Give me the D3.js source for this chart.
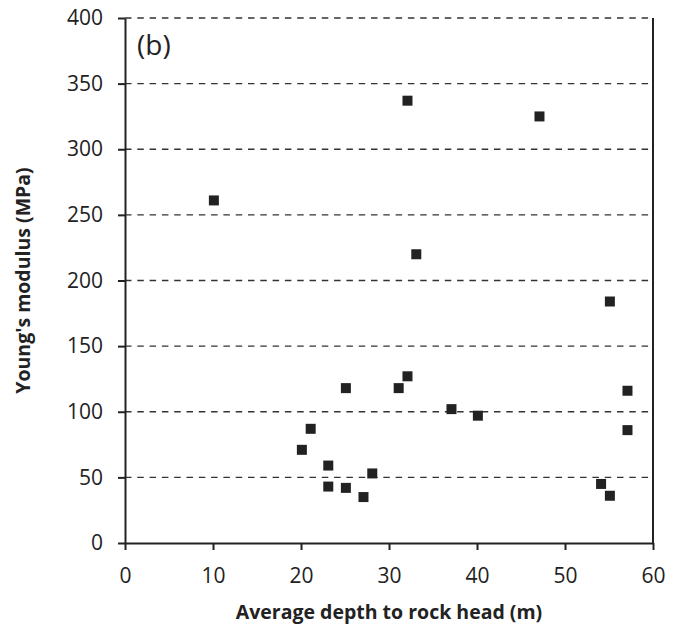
<!DOCTYPE html>
<html>
<head>
<meta charset="utf-8">
<script src="https://cdn.jsdelivr.net/npm/d3@7"></script>
<style>
  body { margin: 0; background: #fff; }
  text { font-family: "Open Sans", sans-serif; fill: #222; }
</style>
</head>
<body>
<svg id="chart" width="679" height="627"></svg>
<script>
"use strict";

// depth to rock head (m) and Young's modulus (MPa)
const depth = [10.1, 32.1, 33.1, 47.1, 25.1, 31.1, 21.1, 20.1, 23.1, 28.1, 23.1,
               25.1, 27.1, 57.1, 57.1, 54.1, 55.1, 32.1, 37.1, 40.1, 55.1];
const modulus = [261, 337, 220, 325, 118, 118, 87, 71, 59, 53, 43,
                 42, 35, 116, 86, 45, 36, 127, 102, 97, 184];
const xTicks = [0, 10, 20, 30, 40, 50, 60];
const yTicks = [0, 50, 100, 150, 200, 250, 300, 350, 400];

const plotLeft = 125, plotRight = 653, plotTop = 18, plotBottom = 543;

const svg = d3.select("#chart");

const xScale = d3.scaleLinear().domain([0, 60]).range([plotLeft, plotRight]);
const yScale = d3.scaleLinear().domain([0, 400]).range([plotBottom, plotTop]);

// dashed gridlines
svg.append("g")
    .selectAll("line")
    .data(yTicks.filter(d => d > 0))
    .join("line")
    .attr("x1", plotLeft)
    .attr("x2", plotRight)
    .attr("y1", d => yScale(d))
    .attr("y2", d => yScale(d))
    .style("stroke", "#333")
    .style("stroke-width", 1.3)
    .style("stroke-dasharray", "6.5,5.8");

// right border
svg.append("line")
    .attr("x1", plotRight).attr("x2", plotRight)
    .attr("y1", plotTop).attr("y2", plotBottom)
    .style("stroke", "#222")
    .style("stroke-width", 2);

const xAxis = svg.append("g")
    .attr("transform", `translate(0,${plotBottom})`)
    .call(d3.axisBottom(xScale).tickValues(xTicks).tickSize(7).tickPadding(18).tickSizeOuter(0));

const yAxis = svg.append("g")
    .attr("transform", `translate(${plotLeft},0)`)
    .call(d3.axisLeft(yScale).tickValues(yTicks).tickSize(7).tickPadding(15).tickSizeOuter(0));

[xAxis, yAxis].forEach(ax => {
    ax.select(".domain").style("stroke", "#222").style("stroke-width", 2);
    ax.selectAll(".tick line").style("stroke", "#222").style("stroke-width", 2);
    ax.selectAll(".tick text")
        .style("font-size", "21px")
        .style("font-family", "'Open Sans', sans-serif")
        .style("fill", "#222");
});

// points
const pts = depth.map((d, i) => ({x: d, y: modulus[i]}));
const sz = 10;
svg.append("g")
    .selectAll("rect")
    .data(pts)
    .join("rect")
    .attr("x", d => xScale(d.x) - sz / 2)
    .attr("y", d => yScale(d.y) - sz / 2)
    .attr("width", sz)
    .attr("height", sz)
    .style("fill", "#222");

// titles
svg.append("text")
    .attr("x", 389)
    .attr("y", 619)
    .attr("text-anchor", "middle")
    .style("font-size", "19.5px")
    .style("font-weight", "bold")
    .text("Average depth to rock head (m)");

svg.append("text")
    .attr("transform", `translate(30,${(plotTop + plotBottom) / 2}) rotate(-90)`)
    .attr("text-anchor", "middle")
    .style("font-size", "19.5px")
    .style("font-weight", "bold")
    .text("Young's modulus (MPa)");

svg.append("text")
    .attr("x", 137)
    .attr("y", 55)
    .style("font-size", "28px")
    .text("(b)");
</script>
</body>
</html>
